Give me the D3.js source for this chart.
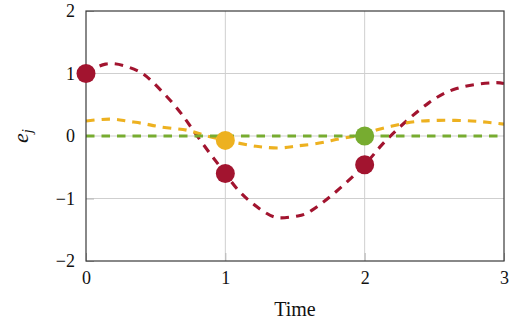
<!DOCTYPE html>
<html>
<head>
<meta charset="utf-8">
<script src="https://cdn.jsdelivr.net/npm/d3@7"></script>
<style>
  body { margin: 0; background: #fff; }
</style>
</head>
<body>
<div id="chart"></div>
<script>
// data
const xTicks = [0, 1, 2, 3];
const yTicks = [-2, -1, 0, 1, 2];

const redT = [0, 0.14, 0.28, 0.39, 0.48, 0.64, 0.77, 0.9, 1.0, 1.12, 1.29, 1.4, 1.52, 1.62, 1.8, 2.0, 2.12, 2.28, 2.46, 2.66, 2.9, 3.0];
const redE = [1.0, 1.15, 1.12, 1.02, 0.86, 0.48, 0.09, -0.31, -0.6, -0.93, -1.23, -1.31, -1.28, -1.19, -0.88, -0.46, -0.15, 0.2, 0.53, 0.76, 0.85, 0.84];

const yellowT = [0, 0.17, 0.29, 0.41, 0.51, 0.63, 0.73, 0.84, 1.0, 1.18, 1.28, 1.4, 1.51, 1.63, 1.75, 1.86, 2.0, 2.09, 2.19, 2.3, 2.41, 2.53, 2.65, 2.77, 2.88, 3.0];
const yellowE = [0.24, 0.27, 0.24, 0.2, 0.155, 0.12, 0.09, 0.02, -0.07, -0.15, -0.18, -0.19, -0.16, -0.13, -0.08, -0.03, 0.03, 0.1, 0.155, 0.21, 0.24, 0.25, 0.25, 0.24, 0.22, 0.19];

const greenT = [0, 3];
const greenE = [0, 0];

// markers: time, value, colour key
const markT = [0, 1, 2, 1, 2];
const markE = [1.0, -0.6, -0.46, -0.07, 0.0];
const markS = ["red", "red", "red", "yellow", "green"];

const colors = { red: "#A2142F", yellow: "#EDB120", green: "#77AC30" };
const serif = "'Liberation Serif', 'DejaVu Serif', serif";

const width = 520, height = 327;
const margin = { top: 11, right: 16, bottom: 66, left: 86 };

const svg = d3.select("#chart").append("svg")
  .attr("width", width)
  .attr("height", height);

const x = d3.scaleLinear().domain([0, 3]).range([margin.left, width - margin.right]);
const y = d3.scaleLinear().domain([-2, 2]).range([height - margin.bottom, margin.top]);

svg.append("defs").append("clipPath").attr("id", "clip")
  .append("rect")
  .attr("x", x(0)).attr("y", y(2))
  .attr("width", x(3) - x(0)).attr("height", y(-2) - y(2));

// grid
const grid = svg.append("g");
grid.selectAll(".gx").data(xTicks.slice(1, -1)).join("line")
  .attr("x1", d => x(d)).attr("x2", d => x(d))
  .attr("y1", y(2)).attr("y2", y(-2))
  .attr("stroke", "#cfcfcf").attr("stroke-width", 1);
grid.selectAll(".gy").data(yTicks.slice(1, -1)).join("line")
  .attr("x1", x(0)).attr("x2", x(3))
  .attr("y1", d => y(d)).attr("y2", d => y(d))
  .attr("stroke", "#cfcfcf").attr("stroke-width", 1);

// axes (inner ticks + labels)
const xAxis = d3.axisBottom(x).tickValues(xTicks).tickSize(-8).tickPadding(10).tickFormat(d3.format("d"));
const yAxis = d3.axisLeft(y).tickValues(yTicks).tickSize(-8).tickPadding(11).tickFormat(d => d < 0 ? "\u2212" + Math.abs(d) : d);

const styleAxis = g => g
  .attr("font-family", serif).attr("font-size", 18)
  .call(g => g.select(".domain").remove())
  .call(g => g.selectAll("line").attr("stroke", "#b5b5b5"))
  .call(g => g.selectAll("text").attr("fill", "#111"));

svg.append("g").attr("transform", `translate(0,${y(-2)})`).call(xAxis).call(styleAxis);
svg.append("g").attr("transform", `translate(${x(0)},0)`).call(yAxis).call(styleAxis);

// curves
const line = d3.line().x(d => x(d[0])).y(d => y(d[1])).curve(d3.curveNatural);
const series = [
  { c: colors.red, t: redT, e: redE },
  { c: colors.yellow, t: yellowT, e: yellowE },
  { c: colors.green, t: greenT, e: greenE },
];
svg.append("g").attr("clip-path", "url(#clip)")
  .selectAll("path").data(series).join("path")
  .attr("d", s => line(d3.zip(s.t, s.e)))
  .attr("fill", "none")
  .attr("stroke", s => s.c)
  .attr("stroke-width", 3.1)
  .attr("stroke-dasharray", "8.5,7");

// box
svg.append("rect")
  .attr("x", x(0)).attr("y", y(2))
  .attr("width", x(3) - x(0)).attr("height", y(-2) - y(2))
  .attr("fill", "none").attr("stroke", "#3a3a3a").attr("stroke-width", 1.2);

// markers
svg.append("g").selectAll("circle").data(d3.range(markT.length)).join("circle")
  .attr("cx", i => x(markT[i]))
  .attr("cy", i => y(markE[i]))
  .attr("r", 9.5)
  .attr("fill", i => colors[markS[i]]);

// labels
svg.append("text")
  .attr("x", (x(0) + x(3)) / 2).attr("y", 316)
  .attr("text-anchor", "middle").attr("font-size", 20)
  .attr("font-family", serif).attr("fill", "#111")
  .text("Time");

svg.append("text")
  .attr("transform", `translate(28,${y(0)}) rotate(-90)`)
  .attr("text-anchor", "middle").attr("font-size", 22).attr("font-style", "italic")
  .attr("font-family", serif).attr("fill", "#111")
  .call(t => t.append("tspan").text("e"))
  .call(t => t.append("tspan").attr("font-size", 15).attr("dy", 4).text("j"));
</script>
</body>
</html>
